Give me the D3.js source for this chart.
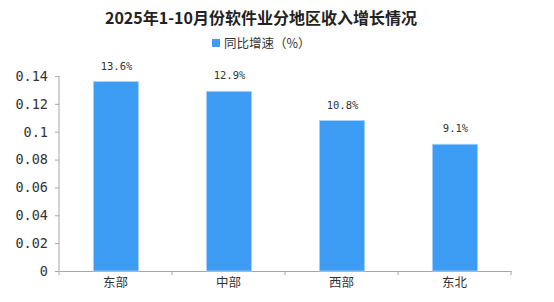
<!DOCTYPE html>
<html>
<head>
<meta charset="utf-8">
<script src="https://cdn.jsdelivr.net/npm/d3@7"></script>
<style>
  body { margin: 0; background: #fff; }
  svg { display: block; }
</style>
</head>
<body>
<div id="chart"></div>
<script>
// chart data
var regions = ["东部", "中部", "西部", "东北"];
var growth = [0.136, 0.129, 0.108, 0.091];
var valueLabels = ["13.6%", "12.9%", "10.8%", "9.1%"];
var yTicks = [0, 0.02, 0.04, 0.06, 0.08, 0.1, 0.12, 0.14];

var title = "2025年1-10月份软件业分地区收入增长情况";
var legendText = "同比增速（%）";

var W = 554, H = 302;
var margin = {top: 76, right: 43, bottom: 31, left: 59};
var width = W - margin.left - margin.right,
    height = H - margin.top - margin.bottom;

var barColor = "#3d9cf4";
var axisColor = "#a6a6a6";

var svg = d3.select("#chart")
  .append("svg")
  .attr("width", W)
  .attr("height", H);

// title
svg.append("text")
  .attr("x", 261)
  .attr("y", 24)
  .attr("text-anchor", "middle")
  .style("font-family", "'Noto Sans CJK SC', sans-serif")
  .style("font-weight", "bold")
  .style("font-size", "16px")
  .style("fill", "#222")
  .text(title);

// legend
svg.append("rect")
  .attr("x", 212)
  .attr("y", 39)
  .attr("width", 8)
  .attr("height", 8)
  .attr("fill", barColor);

svg.append("text")
  .attr("x", 224)
  .attr("y", 47.5)
  .style("font-family", "'Noto Sans CJK SC', sans-serif")
  .style("font-size", "12.5px")
  .style("fill", "#333")
  .text(legendText);

var g = svg.append("g")
  .attr("transform", `translate(${margin.left},${margin.top})`);

var x = d3.scaleBand()
  .domain(regions)
  .range([0, width]);

var y = d3.scaleLinear()
  .domain([0, 0.14])
  .range([height, 0]);

// y axis
var yAxis = g.append("g")
  .call(d3.axisLeft(y)
    .tickValues(yTicks)
    .tickSize(4)
    .tickFormat(d => String(+d.toFixed(2))));

yAxis.select(".domain").attr("stroke", axisColor).attr("d", `M0,0V${height + 4}`);
yAxis.selectAll(".tick line").attr("stroke", axisColor);
yAxis.selectAll(".tick text")
  .attr("x", -11)
  .style("font-family", "'DejaVu Sans Mono', monospace")
  .style("font-size", "13.5px")
  .style("fill", "#333");

// x axis
var xAxis = g.append("g")
  .attr("transform", `translate(0,${height})`)
  .call(d3.axisBottom(x).tickSize(0).tickSizeOuter(0));

xAxis.select(".domain").attr("stroke", axisColor);
xAxis.selectAll(".tick text")
  .attr("dy", "1.05em")
  .style("font-family", "'Noto Sans CJK SC', sans-serif")
  .style("font-size", "12.5px")
  .style("fill", "#333");

// band boundary ticks
xAxis.selectAll(".bound")
  .data(regions.slice(1).concat(["end"]))
  .enter().append("line")
  .attr("class", "bound")
  .attr("x1", d => d === "end" ? width : x(d))
  .attr("x2", d => d === "end" ? width : x(d))
  .attr("y1", 0)
  .attr("y2", 4)
  .attr("stroke", axisColor);

// bars
var barW = x.bandwidth() * 0.4;

g.selectAll(".bar")
  .data(regions)
  .enter().append("rect")
  .attr("class", "bar")
  .attr("x", (d, i) => x(d) + (x.bandwidth() - barW) / 2 + 0.5)
  .attr("y", (d, i) => y(growth[i]))
  .attr("width", barW)
  .attr("height", (d, i) => height - y(growth[i]))
  .attr("fill", barColor)
  .attr("stroke", "#a9d2fa")
  .attr("stroke-width", 0.8);

// value labels
g.selectAll(".vlabel")
  .data(regions)
  .enter().append("text")
  .attr("class", "vlabel")
  .attr("x", (d, i) => x(d) + x.bandwidth() / 2 + 1)
  .attr("y", (d, i) => y(growth[i]) - 12)
  .attr("text-anchor", "middle")
  .style("font-family", "'DejaVu Sans Mono', monospace")
  .style("font-size", "10.5px")
  .style("fill", "#333")
  .text((d, i) => valueLabels[i]);
</script>
</body>
</html>
